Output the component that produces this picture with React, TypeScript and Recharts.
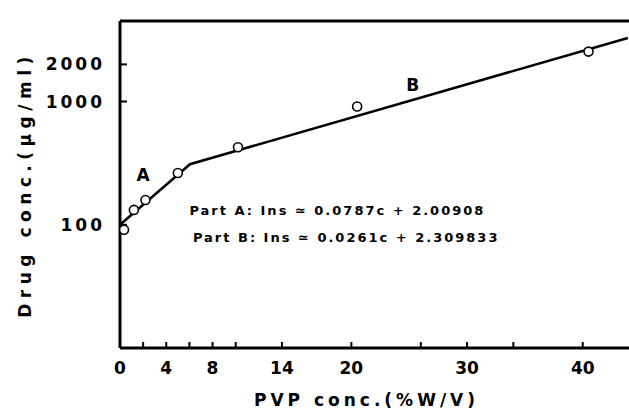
import React from 'react';
import {
  ComposedChart,
  Line,
  Scatter,
  XAxis,
  YAxis,
  ReferenceLine,
  ReferenceDot,
} from 'recharts';

// Measured points: PVP conc. (% W/V) vs drug conc. (ug/ml)
const pvpConc = [0.35, 1.2, 2.2, 5.0, 10.2, 20.5, 40.5];
const drugConc = [91, 132, 159, 263, 426, 910, 2540];

// Fitted two-part line (Part A then Part B)
const fitConc = [0, 6.05, 43.9];
const fitDrug = [100, 310, 3280];

const xTicks = [0, 2, 4, 6, 8, 10, 14, 20, 26, 30, 34, 40];
const xTickLabels = ['0', '', '4', '', '8', '', '14', '20', '', '30', '', '40'];
const yTicks = [100, 1000, 2000];
const yTickLabels = ['100', '1000', '2000'];

const xDomain = [0, 44];
const yDomain = [10, 4500];

const partLabels = [
  { text: 'A', x: 2.0, y: 253 },
  { text: 'B', x: 25.3, y: 1370 },
];
const equations = [
  { text: 'Part A: Ins \u2243 0.0787c + 2.00908', x: 6.0, y: 120 },
  { text: 'Part B: Ins \u2243 0.0261c + 2.309833', x: 6.3, y: 73 },
];

const pointData = pvpConc.map((x, i) => ({ x, y: drugConc[i] }));
const fitData = fitConc.map((x, i) => ({ x, y: fitDrug[i] }));

const FONT = '"DejaVu Sans", sans-serif';

const XTick = (props: any) => {
  const { x, y, payload } = props;
  const label = xTickLabels[xTicks.indexOf(payload.value)] ?? '';
  return (
    <g>
      {payload.value !== 0 && (
        <line x1={x} x2={x} y1={y} y2={y - 6} stroke="#000" strokeWidth={2} />
      )}
      {label && (
        <text
          x={x}
          y={y + 26}
          textAnchor="middle"
          fontFamily={FONT}
          fontWeight="bold"
          fontSize={17}
          fill="#000"
        >
          {label}
        </text>
      )}
    </g>
  );
};

const YTick = (props: any) => {
  const { x, y, payload } = props;
  const label = yTickLabels[yTicks.indexOf(payload.value)] ?? '';
  return (
    <g>
      <line x1={x} x2={x + 7} y1={y} y2={y} stroke="#000" strokeWidth={2} />
      <text
        x={x - 15}
        y={y + 6}
        textAnchor="end"
        fontFamily={FONT}
        fontWeight="bold"
        fontSize={17}
        letterSpacing={3}
        fill="#000"
      >
        {label}
      </text>
    </g>
  );
};

export default function App() {
  return (
    <div style={{ position: 'absolute', left: 0, top: 0, background: '#fff' }}>
      <ComposedChart
        width={629}
        height={413}
        margin={{ top: 21, right: 0, bottom: 0, left: 0 }}
      >
        <XAxis
          type="number"
          dataKey="x"
          domain={xDomain}
          allowDataOverflow
          ticks={xTicks}
          interval={0}
          height={65}
          tickSize={0}
          tickMargin={0}
          tickLine={false}
          axisLine={{ stroke: '#000', strokeWidth: 3 }}
          tick={XTick}
          label={(props: any) => {
            const vb = props.viewBox || {};
            return (
              <text
                x={vb.x + vb.width / 2 - 8}
                y={406}
                textAnchor="middle"
                fontFamily={FONT}
                fontWeight="bold"
                fontSize={17}
                letterSpacing={4}
                fill="#000"
              >
                PVP conc.(%W/V)
              </text>
            );
          }}
        />
        <YAxis
          type="number"
          dataKey="y"
          scale="log"
          domain={yDomain}
          allowDataOverflow
          ticks={yTicks}
          interval={0}
          width={120}
          tickSize={0}
          tickMargin={0}
          tickLine={false}
          axisLine={{ stroke: '#000', strokeWidth: 3 }}
          tick={YTick}
          label={(props: any) => {
            const vb = props.viewBox || {};
            const cy = vb.y + vb.height / 2;
            return (
              <text
                x={26}
                y={cy}
                transform={`rotate(-90, 26, ${cy})`}
                textAnchor="middle"
                dominantBaseline="middle"
                fontFamily={FONT}
                fontWeight="bold"
                fontSize={17}
                letterSpacing={5.5}
                fill="#000"
              >
                Drug conc.(μg/ml)
              </text>
            );
          }}
        />
        <ReferenceLine y={yDomain[1]} stroke="#000" strokeWidth={3} ifOverflow="visible" />
        <Line
          data={fitData}
          dataKey="y"
          type="linear"
          stroke="#000"
          strokeWidth={2.5}
          dot={false}
          activeDot={false}
          isAnimationActive={false}
        />
        <Scatter
          data={pointData}
          dataKey="y"
          isAnimationActive={false}
          shape={(p: any) => (
            <circle cx={p.cx} cy={p.cy} r={4.5} fill="#fff" stroke="#000" strokeWidth={1.6} />
          )}
        />
        {partLabels.map((l) => (
          <ReferenceDot
            key={l.text}
            x={l.x}
            y={l.y}
            r={0}
            stroke="none"
            fill="none"
            label={(props: any) => {
              const vb = props.viewBox || {};
              return (
                <text
                  x={vb.x}
                  y={vb.y}
                  textAnchor="middle"
                  dominantBaseline="central"
                  fontFamily={FONT}
                  fontWeight="bold"
                  fontSize={17}
                  fill="#000"
                >
                  {l.text}
                </text>
              );
            }}
          />
        ))}
        {equations.map((e) => (
          <ReferenceDot
            key={e.text}
            x={e.x}
            y={e.y}
            r={0}
            stroke="none"
            fill="none"
            label={(props: any) => {
              const vb = props.viewBox || {};
              return (
                <text
                  x={vb.x}
                  y={vb.y}
                  textAnchor="start"
                  fontFamily={FONT}
                  fontWeight="bold"
                  fontSize={13}
                  letterSpacing={2}
                  fill="#000"
                >
                  {e.text}
                </text>
              );
            }}
          />
        ))}
      </ComposedChart>
    </div>
  );
}
